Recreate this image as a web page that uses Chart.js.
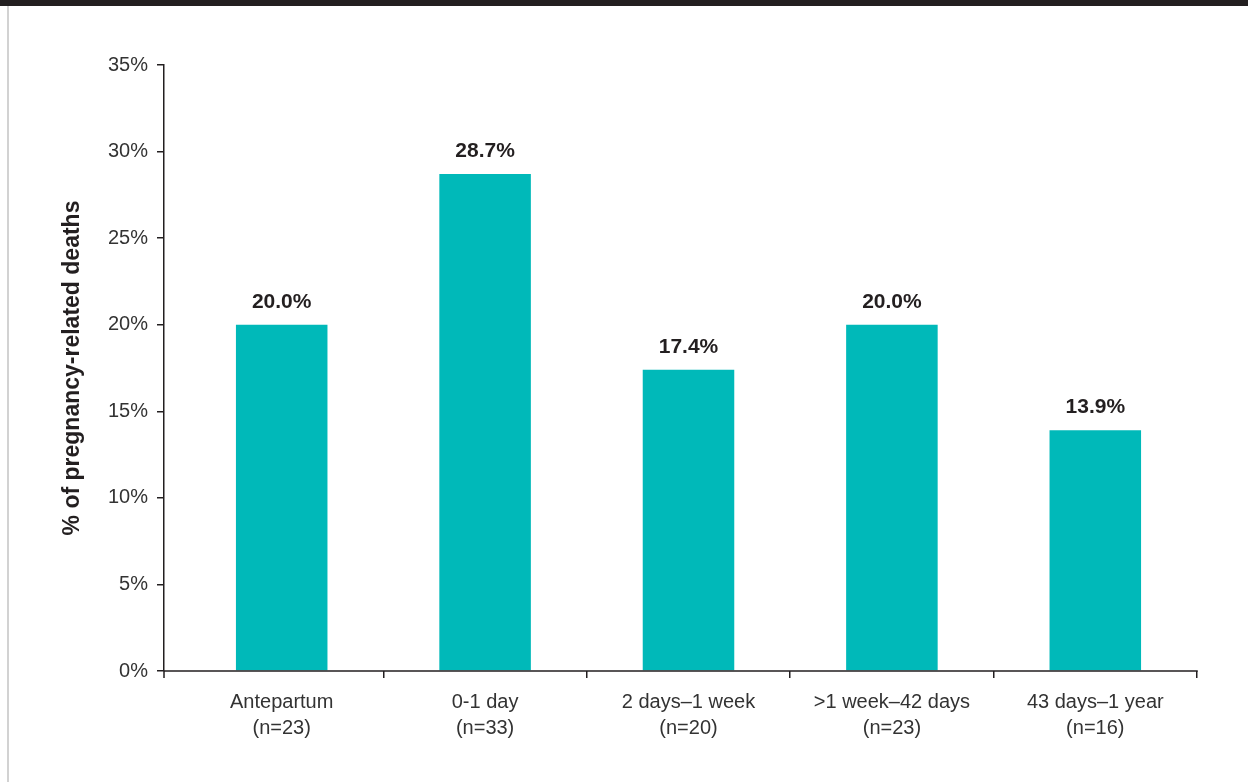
<!DOCTYPE html>
<html>
<head>
<meta charset="utf-8">
<script src="https://cdn.jsdelivr.net/npm/chart.js@4"></script>
<style>
  body { margin: 0; background: #fff; }
  .wrap { position: relative; width: 1248px; height: 782px; overflow: hidden; }
  .topbar { position: absolute; left: 0; top: 0; width: 1248px; height: 6px; background: #231f20; }
  .edge { position: absolute; left: 7px; top: 6px; width: 1.5px; height: 776px; background: #d2d2d2; }
  canvas { position: absolute; left: 0; top: 0; }
</style>
</head>
<body>
<div class="wrap">
  <canvas id="myChart" width="1248" height="782"></canvas>
  <div class="topbar"></div>
  <div class="edge"></div>
</div>
<script>
const periods = ['Antepartum', '0-1 day', '2 days\u20131 week', '>1 week\u201342 days', '43 days\u20131 year'];
const counts = [23, 33, 20, 23, 16];
const shares = [20.0, 28.7, 17.4, 20.0, 13.9];
const yTicks = [0, 5, 10, 15, 20, 25, 30, 35];

const ink = '#231f20';
const teal = '#00b9b9';
const font = "'Liberation Sans', Arial, sans-serif";

// x axis starts a little right of the y axis, like the print version
const axisGap = 16;

const labels = periods.map((p, i) => [p, '(n=' + counts[i] + ')']);

const shiftX = {
  id: 'shiftX',
  afterLayout(chart) {
    const xs = chart.scales.x;
    xs.left = chart.scales.y.right + axisGap;
    xs.width = xs.right - xs.left;
    xs.configure();
  },
  afterDraw(chart) {
    // x axis line runs from the y axis to the last tick, with a small tick below the corner
    const ctx = chart.ctx, xs = chart.scales.x, ys = chart.scales.y;
    const y0 = ys.bottom;
    ctx.save();
    ctx.strokeStyle = ink;
    ctx.lineWidth = 1.5;
    ctx.beginPath();
    ctx.moveTo(ys.right, y0);
    ctx.lineTo(xs.right + 0.75, y0);
    ctx.moveTo(ys.right, y0);
    ctx.lineTo(ys.right, y0 + 7);
    ctx.stroke();
    ctx.restore();
  }
};

const valueLabels = {
  id: 'valueLabels',
  afterDatasetsDraw(chart) {
    const ctx = chart.ctx;
    const meta = chart.getDatasetMeta(0);
    ctx.save();
    ctx.font = 'bold 21px ' + font;
    ctx.fillStyle = ink;
    ctx.textAlign = 'center';
    ctx.textBaseline = 'alphabetic';
    meta.data.forEach((bar, i) => {
      ctx.fillText(shares[i].toFixed(1) + '%', bar.x, bar.y - 17);
    });
    ctx.restore();
  }
};

new Chart(document.getElementById('myChart'), {
  type: 'bar',
  data: {
    labels: labels,
    datasets: [{
      data: shares,
      backgroundColor: teal,
      borderWidth: 0,
      categoryPercentage: 1,
      barPercentage: 0.45
    }]
  },
  options: {
    responsive: false,
    devicePixelRatio: 1,
    animation: false,
    layout: { padding: { left: 59, top: 65, right: 51, bottom: 0 } },
    plugins: {
      legend: { display: false },
      tooltip: { enabled: false }
    },
    scales: {
      x: {
        offset: true,
        grid: {
          offset: true,
          drawOnChartArea: false,
          tickLength: 7,
          lineWidth: 1.5,
          color: c => c.index === 0 ? 'rgba(0,0,0,0)' : ink
        },
        border: { display: false },
        ticks: {
          font: { family: font, size: 20, lineHeight: 1.3 },
          color: '#333',
          padding: 11,
          maxRotation: 0,
          autoSkip: false
        },
        afterFit(s) {
          s.height = 111;
          s.paddingLeft = 0;
          s.paddingRight = 0;
        }
      },
      y: {
        min: 0,
        max: 35,
        afterBuildTicks(s) {
          s.ticks = yTicks.map(v => ({ value: v }));
        },
        grid: {
          drawOnChartArea: false,
          tickLength: 7,
          lineWidth: 1.5,
          color: ink
        },
        border: { color: ink, width: 1.5 },
        ticks: {
          font: { family: font, size: 20 },
          color: '#333',
          padding: 9,
          callback: v => v + '%'
        },
        title: {
          display: true,
          text: '% of pregnancy-related deaths',
          font: { family: font, size: 23, weight: 'bold' },
          color: ink,
          padding: 0
        },
        afterFit(s) {
          s.width = 105;
          s.paddingTop = 0;
          s.paddingBottom = 0;
        }
      }
    }
  },
  plugins: [shiftX, valueLabels]
});
</script>
</body>
</html>
